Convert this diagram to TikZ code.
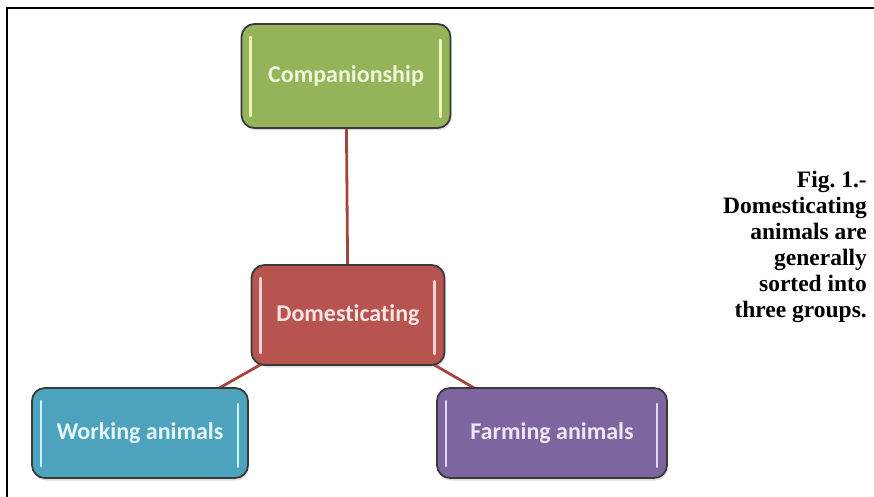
\documentclass[tikz,border=0pt]{standalone}
\usepackage{fontspec}
\setmainfont{Liberation Serif}
\newfontfamily\boxfont[Ligatures={NoCommon}]{Carlito}
\usetikzlibrary{shadows}
\definecolor{cgreen}{HTML}{95B45A}
\definecolor{cred}{HTML}{B85450}
\definecolor{cblue}{HTML}{4DA3BE}
\definecolor{cpurple}{HTML}{7D65A0}
\definecolor{hgreen}{HTML}{EAF8B8}
\definecolor{hred}{HTML}{F6D2D0}
\definecolor{hblue}{HTML}{C8F4FC}
\definecolor{hpurple}{HTML}{E4D8F4}
\definecolor{tgreen}{HTML}{EEF6DC}
\definecolor{tred}{HTML}{FAE6E4}
\definecolor{tblue}{HTML}{E6F6FA}
\definecolor{tpurple}{HTML}{EEE8F6}
\definecolor{linkc}{HTML}{A5443F}
\definecolor{edgec}{HTML}{3A3A3A}
\tikzset{
  box/.style n args={3}{draw=edgec, line width=1.8pt, rounded corners=13pt,
    fill=#1, text=#3, inner sep=0pt, font=\boxfont\bfseries\fontsize{24}{28}\selectfont,
    drop shadow={opacity=0.25, shadow xshift=1pt, shadow yshift=-2.5pt},
    path picture={
      \draw[#2, line width=2.4pt, line cap=round]
        ([xshift=9pt,yshift=-13pt]path picture bounding box.north west) --
        ([xshift=9pt,yshift=12pt]path picture bounding box.south west);
      \draw[#2, line width=2.4pt, line cap=round]
        ([xshift=-10pt,yshift=-16pt]path picture bounding box.north east) --
        ([xshift=-10pt,yshift=11pt]path picture bounding box.south east);
    }},
  link/.style={draw=linkc, line width=2.8pt},
  frame/.style={line width=2.4pt, black}
}
\begin{document}
\begin{tikzpicture}[x=1pt,y=-1pt]
\useasboundingbox (0,0) rectangle (874,497);
\draw[frame] (7.2,497) -- (7.2,7.8) -- (874,7.8);
\coordinate (cc) at (346,76);
\coordinate (dc) at (348,315);
\coordinate (wc) at (140,433);
\coordinate (fc) at (552,433);
\draw[link] (cc) -- (dc);
\draw[link] (dc) -- (wc);
\draw[link] (dc) -- (fc);
\node[box={cgreen}{hgreen}{tgreen}, minimum width=209pt, minimum height=104pt] (comp) at (cc) {Companionship};
\node[box={cred}{hred}{tred}, minimum width=193pt, minimum height=100pt] (dom) at (dc) {Domesticating};
\node[box={cblue}{hblue}{tblue}, minimum width=216pt, minimum height=90pt] (work) at (wc) {Working animals};
\node[box={cpurple}{hpurple}{tpurple}, minimum width=230pt, minimum height=90pt] (farm) at (fc) {Farming animals};
\node[anchor=north east, align=right, inner sep=0pt, font=\bfseries\fontsize{23.5}{26}\selectfont] (cap) at (867,171)
  {Fig.\ 1.-\\Domesticating\\animals are\\generally\\sorted into\\three groups.};
\end{tikzpicture}
\end{document}
